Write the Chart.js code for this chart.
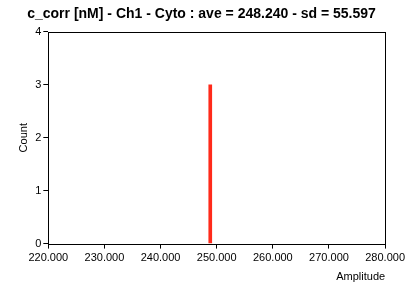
<!DOCTYPE html>
<html>
<head>
<meta charset="utf-8">
<script src="https://cdn.jsdelivr.net/npm/chart.js@4"></script>
<style>
  html, body { margin: 0; padding: 0; background: #fff; }
  #wrap { width: 408px; height: 287px; }
</style>
</head>
<body>
<div id="wrap"><canvas id="histChart" width="408" height="287"></canvas></div>
<script>
// histogram data
var binCenters = [248.85];
var counts = [3];
var xTicks = [220, 230, 240, 250, 260, 270, 280];
var yTicks = [0, 1, 2, 3, 4];
var titleText = 'c_corr [nM] - Ch1 - Cyto : ave = 248.240 - sd = 55.597';

var points = binCenters.map(function (x, i) { return { x: x, y: counts[i] }; });

// draws the frame round the plot area
var frame = {
  id: 'frame',
  afterDraw: function (chart) {
    var a = chart.chartArea, ctx = chart.ctx;
    ctx.save();
    ctx.strokeStyle = '#000';
    ctx.lineWidth = 1;
    ctx.strokeRect(Math.round(a.left) + 0.5, Math.round(a.top) + 0.5,
      Math.round(a.right - a.left), Math.round(a.bottom - a.top));
    ctx.restore();
  }
};

var font = { family: 'Liberation Sans', size: 11 };

var ctx = document.getElementById('histChart').getContext('2d');
var chart = new Chart(ctx, {
  type: 'bar',
  data: {
    datasets: [{
      data: points,
      backgroundColor: '#ff2a1a',
      borderWidth: 0,
      barThickness: 3
    }]
  },
  options: {
    responsive: false,
    animation: false,
    layout: { padding: { left: 17, right: 22, top: 4, bottom: 3 } },
    plugins: {
      legend: { display: false },
      tooltip: { enabled: false },
      title: {
        display: true,
        text: titleText,
        color: '#000',
        font: { family: 'Liberation Sans', size: 14, weight: 'bold' },
        padding: { top: 2, bottom: 9 }
      }
    },
    scales: {
      x: {
        type: 'linear',
        offset: false,
        min: xTicks[0],
        max: xTicks[xTicks.length - 1],
        afterBuildTicks: function (axis) {
          axis.ticks = xTicks.map(function (v) { return { value: v }; });
        },
        ticks: {
          color: '#000',
          font: font,
          maxRotation: 0,
          padding: 3,
          callback: function (v) { return Number(v).toFixed(3); }
        },
        grid: { offset: false, drawOnChartArea: false, drawTicks: true, tickLength: 5, color: '#000' },
        border: { display: false },
        title: {
          display: true,
          text: 'Amplitude',
          align: 'end',
          color: '#000',
          font: font,
          padding: { top: 3, bottom: 0 }
        }
      },
      y: {
        min: yTicks[0],
        max: yTicks[yTicks.length - 1],
        afterBuildTicks: function (axis) {
          axis.ticks = yTicks.map(function (v) { return { value: v }; });
        },
        ticks: { color: '#000', font: font, padding: 2 },
        grid: { drawOnChartArea: false, drawTicks: true, tickLength: 5, color: '#000' },
        border: { display: false },
        title: {
          display: true,
          text: 'Count',
          color: '#000',
          font: font,
          padding: { top: 0, bottom: 3 }
        }
      }
    }
  },
  plugins: [frame]
});
</script>
</body>
</html>
